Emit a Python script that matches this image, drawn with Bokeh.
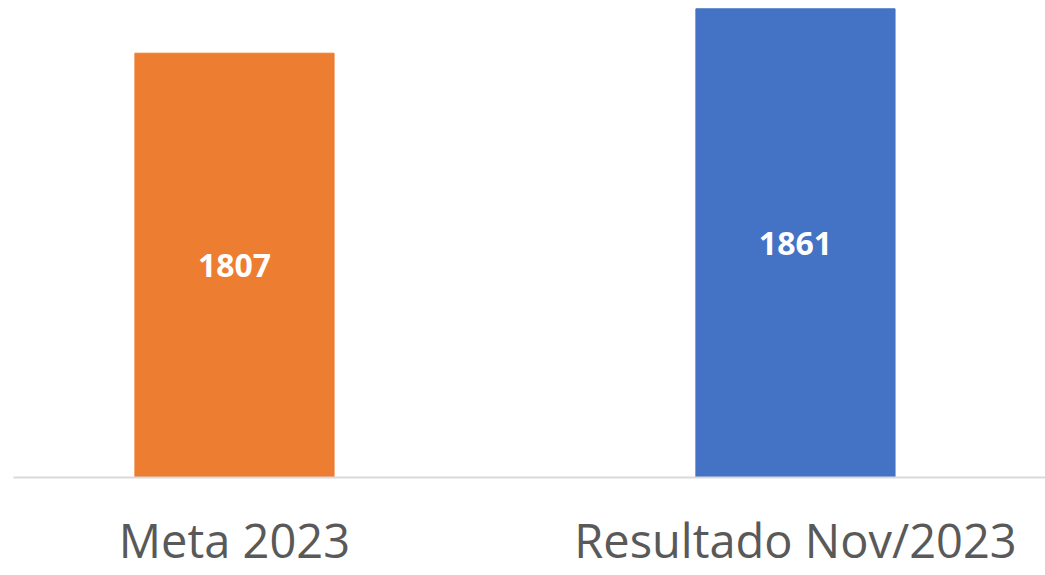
from bokeh.plotting import figure
from bokeh.models import ColumnDataSource, FixedTicker, Range1d
from bokeh.core.properties import value
from bokeh.embed import file_html
from bokeh.resources import INLINE

categories = ["Meta 2023", "Resultado Nov/2023"]
values = [1807, 1861]
colors = ["#ED7D31", "#4472C4"]
labels = [str(v) for v in values]

y_start, y_end = 1290.8, 1871.1
xs = [1, 2]

src = ColumnDataSource(dict(
    x=xs, top=values, color=colors, label=labels,
    mid=[(y_start + v) / 2 for v in values],
))

p = figure(width=1045, height=575, output_backend="svg", toolbar_location=None,
           x_range=Range1d(0.6061, 2.4457), y_range=Range1d(y_start, y_end),
           min_border_top=0, min_border_left=13, min_border_right=0, min_border_bottom=98)
p.vbar(x="x", top="top", bottom=y_start, width=0.355, color="color", source=src)
p.text(x="x", y="mid", text="label", source=src, text_color="white",
       text_font=value("Open Sans"), text_font_style="bold", text_font_size="32px",
       text_align="center", text_baseline="middle")

p.yaxis.visible = False
p.grid.visible = False
p.outline_line_color = None
p.xaxis.ticker = FixedTicker(ticks=xs)
p.xaxis.major_label_overrides = {x: c for x, c in zip(xs, categories)}
p.xaxis.major_tick_line_color = None
p.xaxis.minor_tick_line_color = None
p.xaxis.axis_line_color = "#D9D9D9"
p.xaxis.axis_line_width = 2
p.xaxis.major_label_text_font = "Open Sans"
p.xaxis.major_label_text_font_size = "47px"
p.xaxis.major_label_text_color = "#595959"
p.xaxis.major_label_standoff = 24

open("out.html", "w").write(file_html(p, INLINE))
